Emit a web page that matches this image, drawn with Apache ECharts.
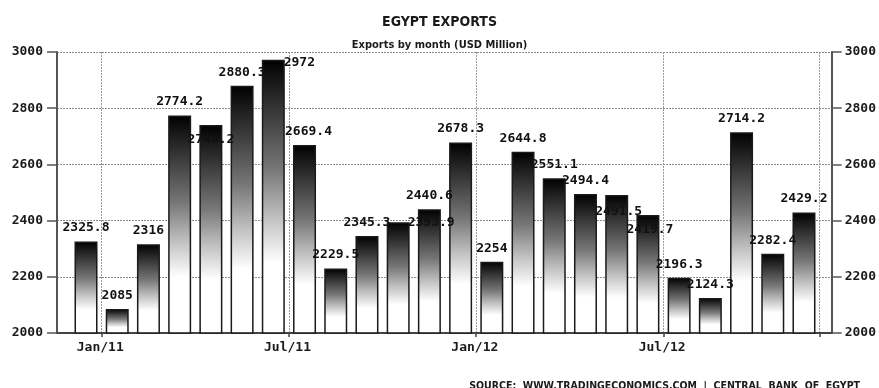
<!DOCTYPE html>
<html>
<head>
<meta charset="utf-8">
<script src="https://cdn.jsdelivr.net/npm/echarts@6/dist/echarts.min.js"></script>
<style>
  html, body { margin: 0; padding: 0; background: #ffffff; }
  #chart { width: 879px; height: 388px; }
</style>
</head>
<body>
<div id="chart"></div>
<script>
// Monthly exports, USD million
const months = [
  'Dec/10', 'Jan/11', 'Feb/11', 'Mar/11', 'Apr/11', 'May/11', 'Jun/11', 'Jul/11',
  'Aug/11', 'Sep/11', 'Oct/11', 'Nov/11', 'Dec/11', 'Jan/12', 'Feb/12', 'Mar/12',
  'Apr/12', 'May/12', 'Jun/12', 'Jul/12', 'Aug/12', 'Sep/12', 'Oct/12', 'Nov/12'
];
const exportsUsdMillion = [
  2325.8, 2085, 2316, 2774.2, 2740.2, 2880.3, 2972, 2669.4,
  2229.5, 2345.3, 2393.9, 2440.6, 2678.3, 2254, 2644.8, 2551.1,
  2494.4, 2491.5, 2419.7, 2196.3, 2124.3, 2714.2, 2282.4, 2429.2
];
const yMin = 2000;
const yMax = 3000;
const yStep = 200;
const labelledMonths = ['Jan/11', 'Jul/11', 'Jan/12', 'Jul/12'];

// Value labels that would collide with a neighbour are nudged aside
const labelNudge = {
  'Apr/11': [0, 28],
  'Jun/11': [26, 16],
  'Jul/11': [4, 0],
  'Oct/11': [33, 14],
  'May/12': [2, 30],
  'Jun/12': [2, 28]
};

const monoBold = { fontFamily: 'DejaVu Sans Mono', fontWeight: 'bold', fontSize: 13, color: '#1a1a1a' };
const isLabelled = (i) => labelledMonths.indexOf(months[i]) >= 0;
const plainNumber = (v) => String(v);

const barFill = new echarts.graphic.LinearGradient(0, 0, 0, 1, [
  { offset: 0, color: '#000000' },
  { offset: 0.1, color: '#1e1e1e' },
  { offset: 0.4, color: '#777777' },
  { offset: 0.58, color: '#c2c2c2' },
  { offset: 0.74, color: '#ffffff' },
  { offset: 1, color: '#ffffff' }
]);

const chart = echarts.init(document.getElementById('chart'), null, { renderer: 'canvas' });

chart.setOption({
  animation: false,
  backgroundColor: '#ffffff',
  title: [
    {
      text: 'EGYPT EXPORTS', left: 'center', top: 10,
      textStyle: { fontFamily: 'DejaVu Sans Condensed', fontWeight: 'bold', fontSize: 14, color: '#1a1a1a' }
    },
    {
      text: 'Exports by month (USD Million)', left: 'center', top: 35,
      textStyle: { fontFamily: 'DejaVu Sans Condensed', fontWeight: 'bold', fontSize: 11, color: '#1a1a1a' }
    },
    {
      text: 'SOURCE:  WWW.TRADINGECONOMICS.COM  |  CENTRAL  BANK  OF  EGYPT', right: 14, top: 376,
      textStyle: { fontFamily: 'DejaVu Sans Condensed', fontWeight: 'bold', fontSize: 10.5, color: '#1a1a1a' }
    }
  ],
  grid: [
    // frame: value axes, horizontal grid, baseline
    { left: 57, right: 47, top: 52, bottom: 55 },
    // bars
    { left: 70.4, right: 59.4, top: 52, bottom: 55 }
  ],
  xAxis: [
    {
      type: 'category', gridIndex: 0, data: months,
      axisLine: { show: true, lineStyle: { color: '#444', width: 2 } },
      axisTick: { show: false }, axisLabel: { show: false }, splitLine: { show: false }
    },
    {
      type: 'category', gridIndex: 1, data: months, boundaryGap: true,
      axisLine: { show: false },
      axisTick: { show: true, interval: (i) => isLabelled(i), length: 4, lineStyle: { color: '#444', width: 1.5 } },
      splitLine: { show: true, interval: (i) => isLabelled(i), lineStyle: { color: '#9a9a9a', type: [2, 1], width: 1 } },
      axisLabel: {
        show: true, interval: (i) => isLabelled(i), margin: 8,
        padding: [0, 34, 0, 0],
        ...monoBold
      }
    }
  ],
  yAxis: [
    {
      type: 'value', gridIndex: 0, position: 'left', min: yMin, max: yMax, interval: yStep,
      axisLine: { show: true, lineStyle: { color: '#555', width: 2 } },
      axisTick: { show: true, length: 10, inside: false, lineStyle: { color: '#555', width: 1.5 } },
      axisLabel: { margin: 14, formatter: plainNumber, ...monoBold },
      splitLine: { show: true, lineStyle: { color: '#8c8c8c', type: [2, 1], width: 1 } }
    },
    {
      type: 'value', gridIndex: 0, position: 'right', min: yMin, max: yMax, interval: yStep,
      axisLine: { show: true, lineStyle: { color: '#555', width: 2 } },
      axisTick: { show: true, length: 10, inside: false, lineStyle: { color: '#555', width: 1.5 } },
      axisLabel: { margin: 13, formatter: plainNumber, ...monoBold },
      splitLine: { show: false }
    },
    {
      type: 'value', gridIndex: 1, min: yMin, max: yMax, interval: yStep, show: false
    }
  ],
  series: [
    {
      type: 'bar',
      xAxisIndex: 1,
      yAxisIndex: 2,
      barWidth: 23,
      data: exportsUsdMillion.map((v, i) => {
        const item = { value: v };
        if (labelNudge[months[i]]) item.label = { offset: labelNudge[months[i]] };
        return item;
      }),
      itemStyle: { color: barFill, borderColor: '#1a1a1a', borderWidth: 1.5 },
      label: {
        show: true, position: 'top', distance: 7,
        formatter: (p) => String(p.value),
        ...monoBold, color: '#111'
      }
    }
  ]
});
</script>
</body>
</html>
